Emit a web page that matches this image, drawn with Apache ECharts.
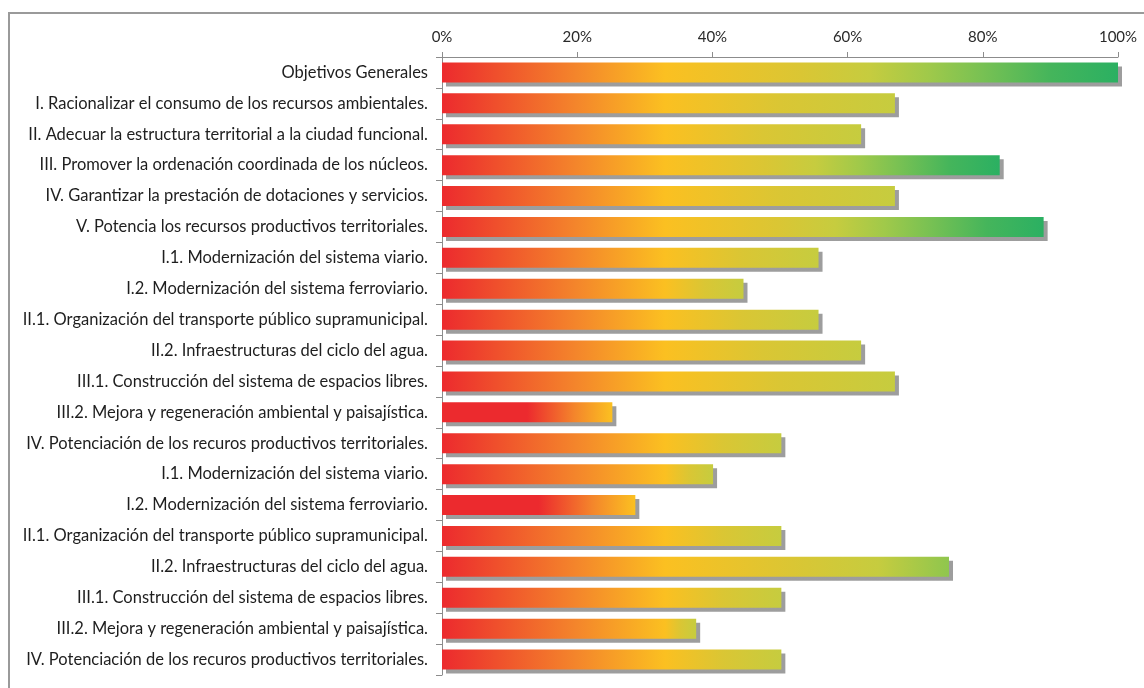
<!DOCTYPE html>
<html>
<head>
<meta charset="utf-8">
<script src="https://cdn.jsdelivr.net/npm/echarts@6/dist/echarts.min.js"></script>
<style>
  html, body { margin: 0; padding: 0; background: #fff; }
  #frame {
    position: absolute; left: 8px; top: 12px; width: 1150px; height: 690px;
    border-top: 2px solid #9a9a9a; border-left: 2px solid #9a9a9a;
  }
  #chart { position: absolute; left: 0; top: 0; width: 1144px; height: 688px; }
</style>
</head>
<body>
<div id="frame"></div>
<div id="chart"></div>
<script>
var categories = [
  'Objetivos Generales',
  'I. Racionalizar el consumo de los recursos ambientales.',
  'II. Adecuar la estructura territorial a la ciudad funcional.',
  'III. Promover la ordenación coordinada de los núcleos.',
  'IV. Garantizar la prestación de dotaciones y servicios.',
  'V. Potencia los recursos productivos territoriales.',
  'I.1. Modernización del sistema viario.',
  'I.2. Modernización del sistema ferroviario.',
  'II.1. Organización del transporte público supramunicipal.',
  'II.2. Infraestructuras del ciclo del agua.',
  'III.1. Construcción del sistema de espacios libres.',
  'III.2. Mejora y regeneración ambiental y paisajística.',
  'IV. Potenciación de los recuros productivos territoriales.',
  'I.1. Modernización del sistema viario.',
  'I.2. Modernización del sistema ferroviario.',
  'II.1. Organización del transporte público supramunicipal.',
  'II.2. Infraestructuras del ciclo del agua.',
  'III.1. Construcción del sistema de espacios libres.',
  'III.2. Mejora y regeneración ambiental y paisajística.',
  'IV. Potenciación de los recuros productivos territoriales.'
];
var values = [100, 67, 62, 82.5, 67, 89, 55.7, 44.6, 55.7, 62, 67, 25.2, 50.2, 40.1, 28.6, 50.2, 75, 50.2, 37.6, 50.2];
var tickLabels = ['0%', '20%', '40%', '60%', '80%', '100%'];

var RED = '#ec2a2e', ORANGE = '#f4862b', YELLOW = '#fbc021';
var OLIVE = '#dac634', YGREEN = '#c6cc3f', LGREEN = '#a0c94a';

// gradient along each bar, built from its value
function barFill(v) {
  var f = v / 100, stops = [];
  if (f < 0.36) {
    stops = [[0, RED], [0.5, RED], [0.78, ORANGE], [1, YELLOW]];
  } else {
    var y = 0.33 / f;
    stops = [[0, RED], [0.08 / f, '#ef4f2c'], [0.2 / f, ORANGE], [y, YELLOW]];
    var ramp;
    if (f >= 0.8) {
      ramp = [[0.3, OLIVE], [0.45, YGREEN], [0.58, LGREEN], [0.7, '#78c153'], [0.85, '#45b55b'], [1, '#2bb062']];
    } else if (f >= 0.7) {
      ramp = [[0.45, OLIVE], [0.75, YGREEN], [1, '#8fc64e']];
    } else {
      ramp = [[0.5, OLIVE], [1, YGREEN]];
    }
    ramp.forEach(function (r) { stops.push([y + (1 - y) * r[0], r[1]]); });
  }
  return new echarts.graphic.LinearGradient(0, 0, 1, 0, stops.map(function (s) {
    return { offset: Math.min(1, s[0]), color: s[1] };
  }));
}

var chart = echarts.init(document.getElementById('chart'));
chart.setOption({
  animation: false,
  grid: { left: 442, right: 26, top: 57, height: 618 },
  xAxis: {
    type: 'value', position: 'top', min: 0, max: 100, interval: 20,
    axisLine: { show: true, lineStyle: { color: '#8c8c8c', width: 1 } },
    axisTick: { show: true, length: 5, lineStyle: { color: '#8c8c8c' } },
    splitLine: { show: false },
    axisLabel: {
      margin: 12, color: '#2a2a2a', fontFamily: 'Lato', fontSize: 15,
      formatter: function (v) { return tickLabels[v / 20]; }
    }
  },
  yAxis: {
    type: 'category', inverse: true, data: categories,
    axisLine: { show: true, lineStyle: { color: '#8c8c8c', width: 1 } },
    axisTick: { show: true, length: 6, lineStyle: { color: '#8c8c8c' } },
    axisLabel: { margin: 14, color: '#1e1e1e', fontFamily: 'Lato', fontSize: 16.5 }
  },
  series: [{
    type: 'bar',
    barWidth: 20,
    data: values.map(function (v) {
      return {
        value: v,
        itemStyle: {
          color: barFill(v),
          shadowColor: 'rgba(140,140,140,0.85)',
          shadowOffsetX: 4, shadowOffsetY: 4, shadowBlur: 0
        }
      };
    })
  }]
});
</script>
</body>
</html>
